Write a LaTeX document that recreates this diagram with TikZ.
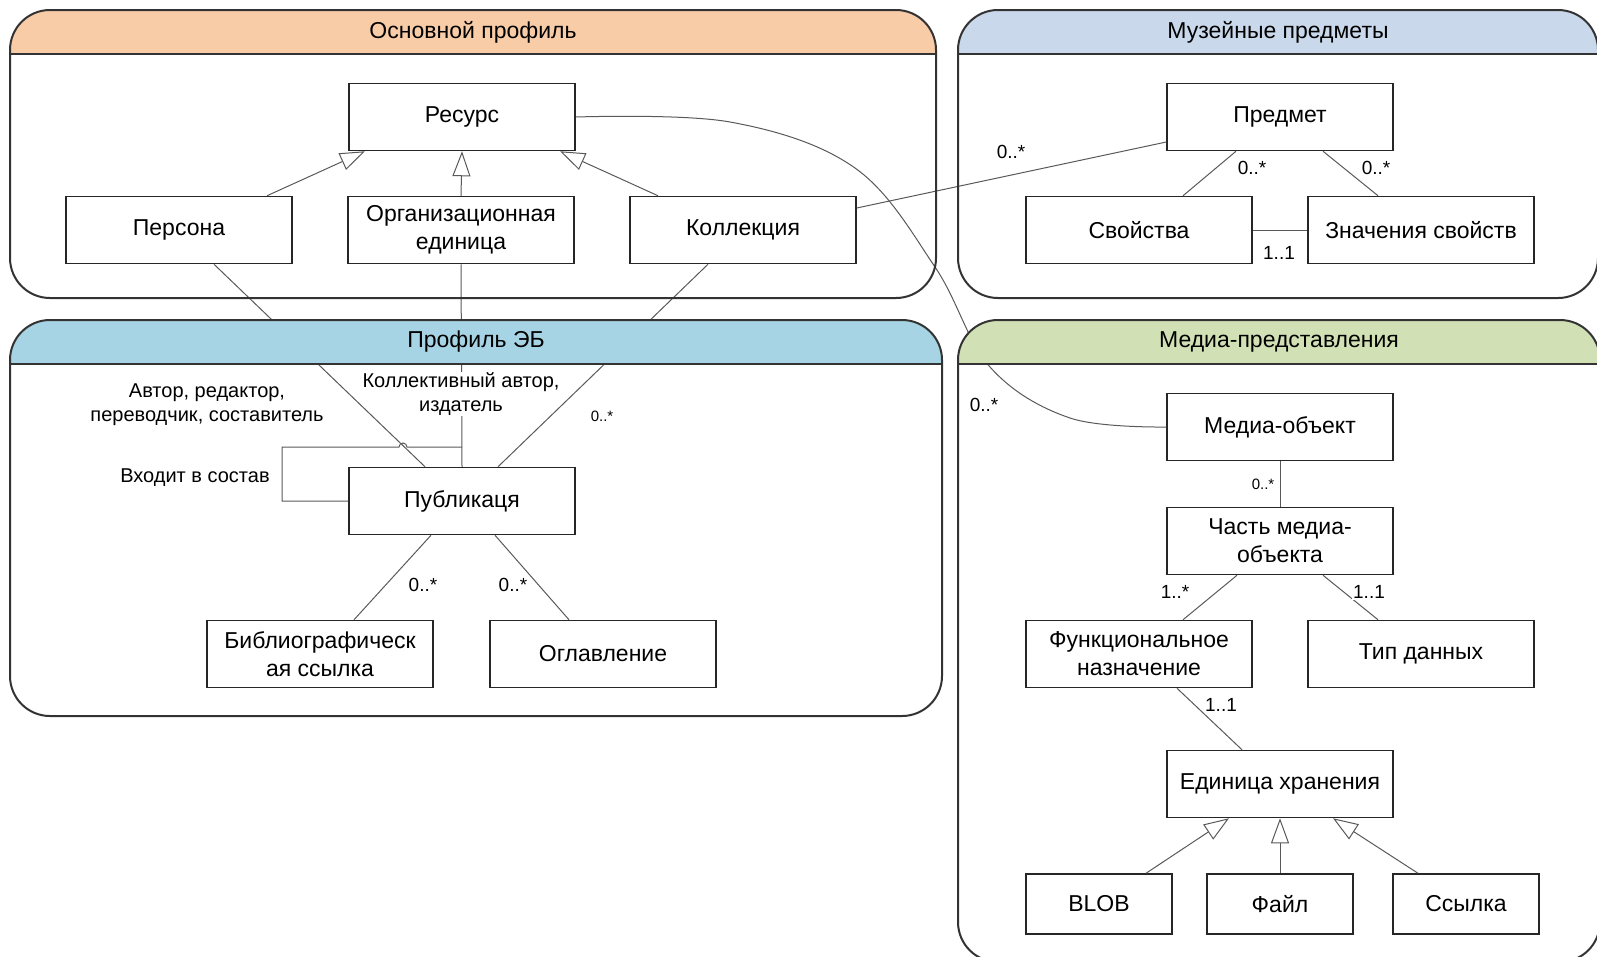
\documentclass[tikz,border=0pt]{standalone}
\usepackage{fontspec}
\setmainfont{Liberation Sans}
\usetikzlibrary{arrows.meta,calc}

\definecolor{hdrorange}{HTML}{F9CCA8}
\definecolor{hdrgrey}{HTML}{C9D8EA}
\definecolor{hdrcyan}{HTML}{A7D4E4}
\definecolor{hdrgreen}{HTML}{D2E1B5}

\tikzset{
  cls/.style={draw=black!85, line width=1.5pt, fill=white, minimum width=226pt, minimum height=67pt, align=center, inner sep=2pt, font=\fontsize{23}{28}\selectfont},
  leafbox/.style={cls, minimum width=146pt, minimum height=60pt},
  assoc/.style={draw=black!65, line width=1pt},
  isa/.style={assoc, -{Triangle[open, length=25pt, width=18pt]}},
  mult/.style={inner sep=1pt, font=\fontsize{19}{22}\selectfont},
  multsmall/.style={inner sep=1pt, font=\fontsize{15}{18}\selectfont},
  role/.style={inner sep=1pt, align=center, font=\fontsize{20}{24}\selectfont},
  pane/.style={draw=black!80, line width=2pt, rounded corners=40pt}
}

\begin{document}
\begin{tikzpicture}[x=1pt, y=-1pt]
  \clip (0,0) rectangle (1597,956);

  \node[cls] (res) at (462,117) {Ресурс};
  \node[cls] (pers) at (179,230) {Персона};
  \node[cls] (org) at (461,230) {Организационная\\единица};
  \node[cls] (coll) at (743,230) {Коллекция};
  \node[cls] (item) at (1280,117) {Предмет};
  \node[cls] (props) at (1139,230) {Свойства};
  \node[cls] (vals) at (1421,230) {Значения свойств};
  \node[cls] (pub) at (462,501) {Публикаця};
  \node[cls] (bib) at (320,654) {Библиографическ\\ая ссылка};
  \node[cls] (toc) at (603,654) {Оглавление};
  \node[cls] (mobj) at (1280,427) {Медиа-объект};
  \node[cls] (part) at (1280,541) {Часть медиа-\\объекта};
  \node[cls] (func) at (1139,654) {Функциональное\\назначение};
  \node[cls] (dtype) at (1421,654) {Тип данных};
  \node[cls] (store) at (1280,784) {Единица хранения};
  \node[leafbox] (blob) at (1099,904) {BLOB};
  \node[leafbox] (file) at (1280,904) {Файл};
  \node[leafbox] (link) at (1466,904) {Ссылка};

  \draw[isa] ([xshift=88pt]pers.north) -- ([xshift=-97pt]res.south);
  \draw[isa] (org.north) -- (res.south);
  \draw[isa] ([xshift=-85pt]coll.north) -- ([xshift=98pt]res.south);

  \draw[assoc] ([yshift=22pt]coll.east) -- ([yshift=-25pt]item.west);
  \node[mult] (mcoll) at (1011,152) {0..*};
  \draw[assoc] ([xshift=-44pt]item.south) -- ([xshift=44pt]props.north);
  \node[mult] (mprops) at (1252,168) {0..*};
  \draw[assoc] ([xshift=43pt]item.south) -- ([xshift=-43pt]vals.north);
  \node[mult] (mvals) at (1376,168) {0..*};
  \draw[assoc] (props.east) -- (vals.west);
  \node[mult] (mpv) at (1279,253) {1..1};

  \draw[assoc] (org.south) -- (pub.north);
  \coordinate (loop) at (282,447);
  \draw[assoc] (pub.west) -| (loop) -- (399,447) arc[start angle=180, end angle=0, radius=4pt] -- (pub.north |- loop);
  \node[role, fill=white] (collab) at (461,394) {Коллективный автор,\\издатель};
  \draw[assoc] ([xshift=35pt]pers.south) -- ([xshift=-37pt]pub.north);
  \draw[assoc] ([xshift=-35pt]coll.south) -- ([xshift=36pt]pub.north);
  \node[role] (authors) at (207,405) {Автор, редактор,\\переводчик, составитель};
  \node[role] (incl) at (195,478) {Входит в состав};
  \node[multsmall] (mpub) at (602,416) {0..*};

  \draw[assoc] ([xshift=-31pt]pub.south) -- ([xshift=34pt]bib.north);
  \node[mult] (mbib) at (423,585) {0..*};
  \draw[assoc] ([xshift=33pt]pub.south) -- ([xshift=-34pt]toc.north);
  \node[mult] (mtoc) at (513,585) {0..*};

  \draw[assoc] plot[smooth, tension=0.6] coordinates {(res.east) (730,122) (855,168) (935,267) (990,367) (1070,418) (mobj.west)};
  \node[mult] (mmedia) at (984,405) {0..*};
  \draw[assoc] (mobj.south) -- (part.north);
  \node[multsmall] (mpart) at (1263,484) {0..*};
  \draw[assoc] ([xshift=-43pt]part.south) -- ([xshift=44pt]func.north);
  \node[mult] (mfunc) at (1175,592) {1..*};
  \draw[assoc] ([xshift=43pt]part.south) -- ([xshift=-43pt]dtype.north);
  \node[mult, fill=white] (mtype) at (1369,592) {1..1};
  \draw[assoc] ([xshift=38pt]func.south) -- ([xshift=-38pt]store.north);
  \node[mult, fill=white] (mstore) at (1221,705) {1..1};
  \draw[isa] ([xshift=47pt]blob.north) -- ([xshift=-51pt]store.south);
  \draw[isa] (file.north) -- (store.south);
  \draw[isa] ([xshift=-48pt]link.north) -- ([xshift=53pt]store.south);

  \foreach \xa/\ya/\xb/\yb/\col/\ttl [count=\i] in {10/10/936/298/hdrorange/Основной профиль, 958/10/1598/298/hdrgrey/Музейные предметы, 10/320/942/716/hdrcyan/Профиль ЭБ, 958/320/1600/962/hdrgreen/Медиа-представления}
  {
    \begin{scope}
      \clip[rounded corners=40pt] (\xa,\ya) rectangle (\xb,\yb);
      \fill[\col] (\xa,\ya) rectangle (\xb,\ya+44);
    \end{scope}
    \draw[pane] (\xa,\ya) rectangle (\xb,\yb);
    \draw[pane] (\xa,\ya+44) -- (\xb,\ya+44);
    \node[font=\fontsize{23}{28}\selectfont] (title\i) at ({(\xa+\xb)/2},\ya+22) {\ttl};
  }
\end{tikzpicture}
\end{document}
